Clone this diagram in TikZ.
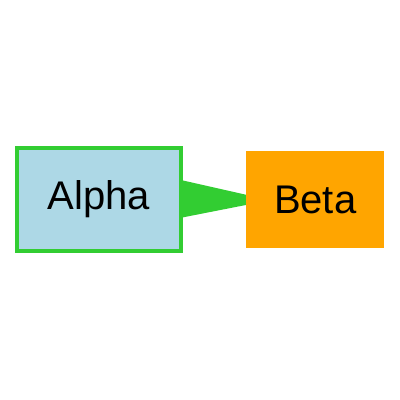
\documentclass[tikz,border=0pt]{standalone}
\usepackage{fontspec}
\setmainfont{Liberation Sans}
\definecolor{lgreen}{HTML}{32CD32}
\definecolor{lblue}{HTML}{ADD8E6}
\definecolor{orng}{HTML}{FFA500}
\tikzset{
  box/.style={rectangle, inner sep=0pt, font=\fontsize{40}{48}\selectfont, text=black},
}
\begin{document}
\begin{tikzpicture}[x=1pt,y=-1pt]
\useasboundingbox (0,0) rectangle (400,400);
\node[box, fill=lblue, draw=lgreen, line width=4pt, minimum width=163.5pt, minimum height=103pt] (alpha) at (99,199.2) {Alpha};
\node[box, fill=orng, minimum width=138.3pt, minimum height=97.6pt] (beta) at (315.2,199.5) {Beta};
\coordinate (t1) at ([yshift=-18.4pt]alpha.east);
\coordinate (t2) at ([yshift=19pt]alpha.east);
\coordinate (h1) at ([yshift=-5.5pt]beta.west);
\coordinate (h2) at ([yshift=4.8pt]beta.west);
\fill[lgreen] ([xshift=-1pt]t1) -- (h1) -- (h2) -- ([xshift=-1pt]t2) -- cycle;
\end{tikzpicture}
\end{document}
